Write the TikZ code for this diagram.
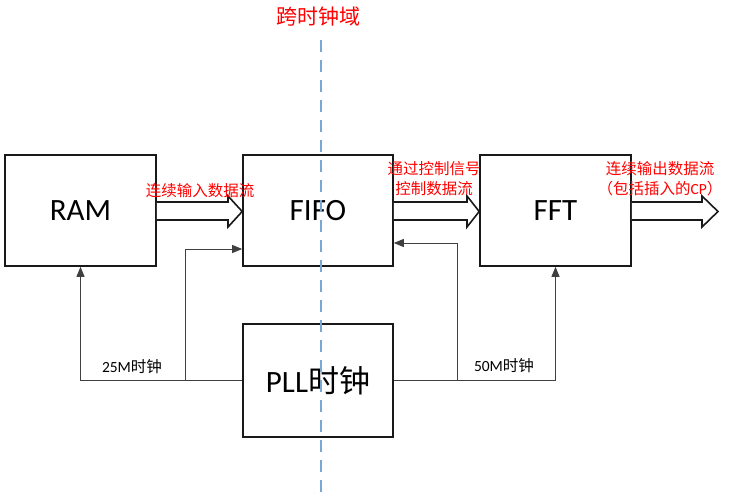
\documentclass[tikz,border=0pt]{standalone}
\usepackage{fontspec}
\setmainfont{Carlito}
\newfontfamily\cjk{Noto Sans CJK SC}
\usetikzlibrary{arrows.meta,calc}
\definecolor{dashblue}{HTML}{7BA7D6}
\definecolor{lred}{HTML}{FF0000}
\begin{document}
\begin{tikzpicture}[x=1pt,y=-1pt,
  box/.style={draw=black!90,line width=1.6pt,fill=white,minimum width=151pt,minimum height=111pt,inner sep=0pt,font=\fontsize{31}{34}\selectfont},
  blk/.style={draw=black!90,line width=1.6pt,fill=white,line join=miter},
  conn/.style={draw=black!75,line width=0.9pt,-{Triangle[length=10pt,width=8pt]}},
  rlab/.style={text=lred,font=\cjk\fontsize{15.5}{17}\selectfont,inner sep=0pt},
  blab/.style={text=black,font=\fontsize{15.5}{17}\selectfont,inner sep=0pt},
  dl/.style={draw=dashblue,line width=1.3pt,dash pattern=on 12pt off 8pt}
]
\useasboundingbox (0,0) rectangle (734,495);
\fill[white] (0,0) rectangle (734,495);

% nodes
\node[box] (RAM) at (80.5,210.5) {RAM};
\node[box,minimum width=150pt] (FIFO) at (318,210.5) {FIFO};
\node[box] (FFT) at (555.5,210.5) {FFT};
\node[box,minimum width=150pt,minimum height=113pt] (PLL) at (318,380.5) {PLL{\cjk 时钟}};

% block arrows
\draw[blk] (RAM.east |- 0,202) -- (228,202) -- (228,196) -- (FIFO.west |- 0,211.5) -- (228,227) -- (228,220) -- (RAM.east |- 0,220);
\draw[blk] (FIFO.east |- 0,202) -- (467,202) -- (467,196) -- (FFT.west |- 0,211.5) -- (467,227) -- (467,220) -- (FIFO.east |- 0,220);
\coordinate (outtip) at (718,211.5);
\draw[blk] (FFT.east |- 0,202) -- (702,202) -- (702,196) -- (outtip) -- (702,227) -- (702,220) -- (FFT.east |- 0,220);

% clock connectors
\coordinate (j1) at (185,380.5);
\coordinate (j2) at (457,380.5);
\draw[conn] (PLL.west) -| (RAM.south);
\draw[conn] (j1) |- (FIFO.west |- 0,249);
\draw[conn] (PLL.east) -| (FFT.south);
\draw[conn] (j2) |- (FIFO.east |- 0,243);

% labels
\node[blab] (l25) at (132,367) {25M{\cjk 时钟}};
\node[blab] (l50) at (504,366) {50M{\cjk 时钟}};
\node[rlab] (lin) at (200,191) {连续输入数据流};
\node[rlab] (lc1) at (434,169) {通过控制信号};
\node[rlab] (lc2) at (434,189) {控制数据流};
\node[rlab] (lo1) at (660,169) {连续输出数据流};
\node[rlab] (lo2) at (660,189) {（包括插入的{\rmfamily CP}）};
\node[rlab,font=\cjk\fontsize{21}{23}\selectfont] (title) at (318,17) {跨时钟域};

% clock-domain boundary
\draw[dl] (321,40) -- (321,493) -- (314,493);
\end{tikzpicture}
\end{document}
